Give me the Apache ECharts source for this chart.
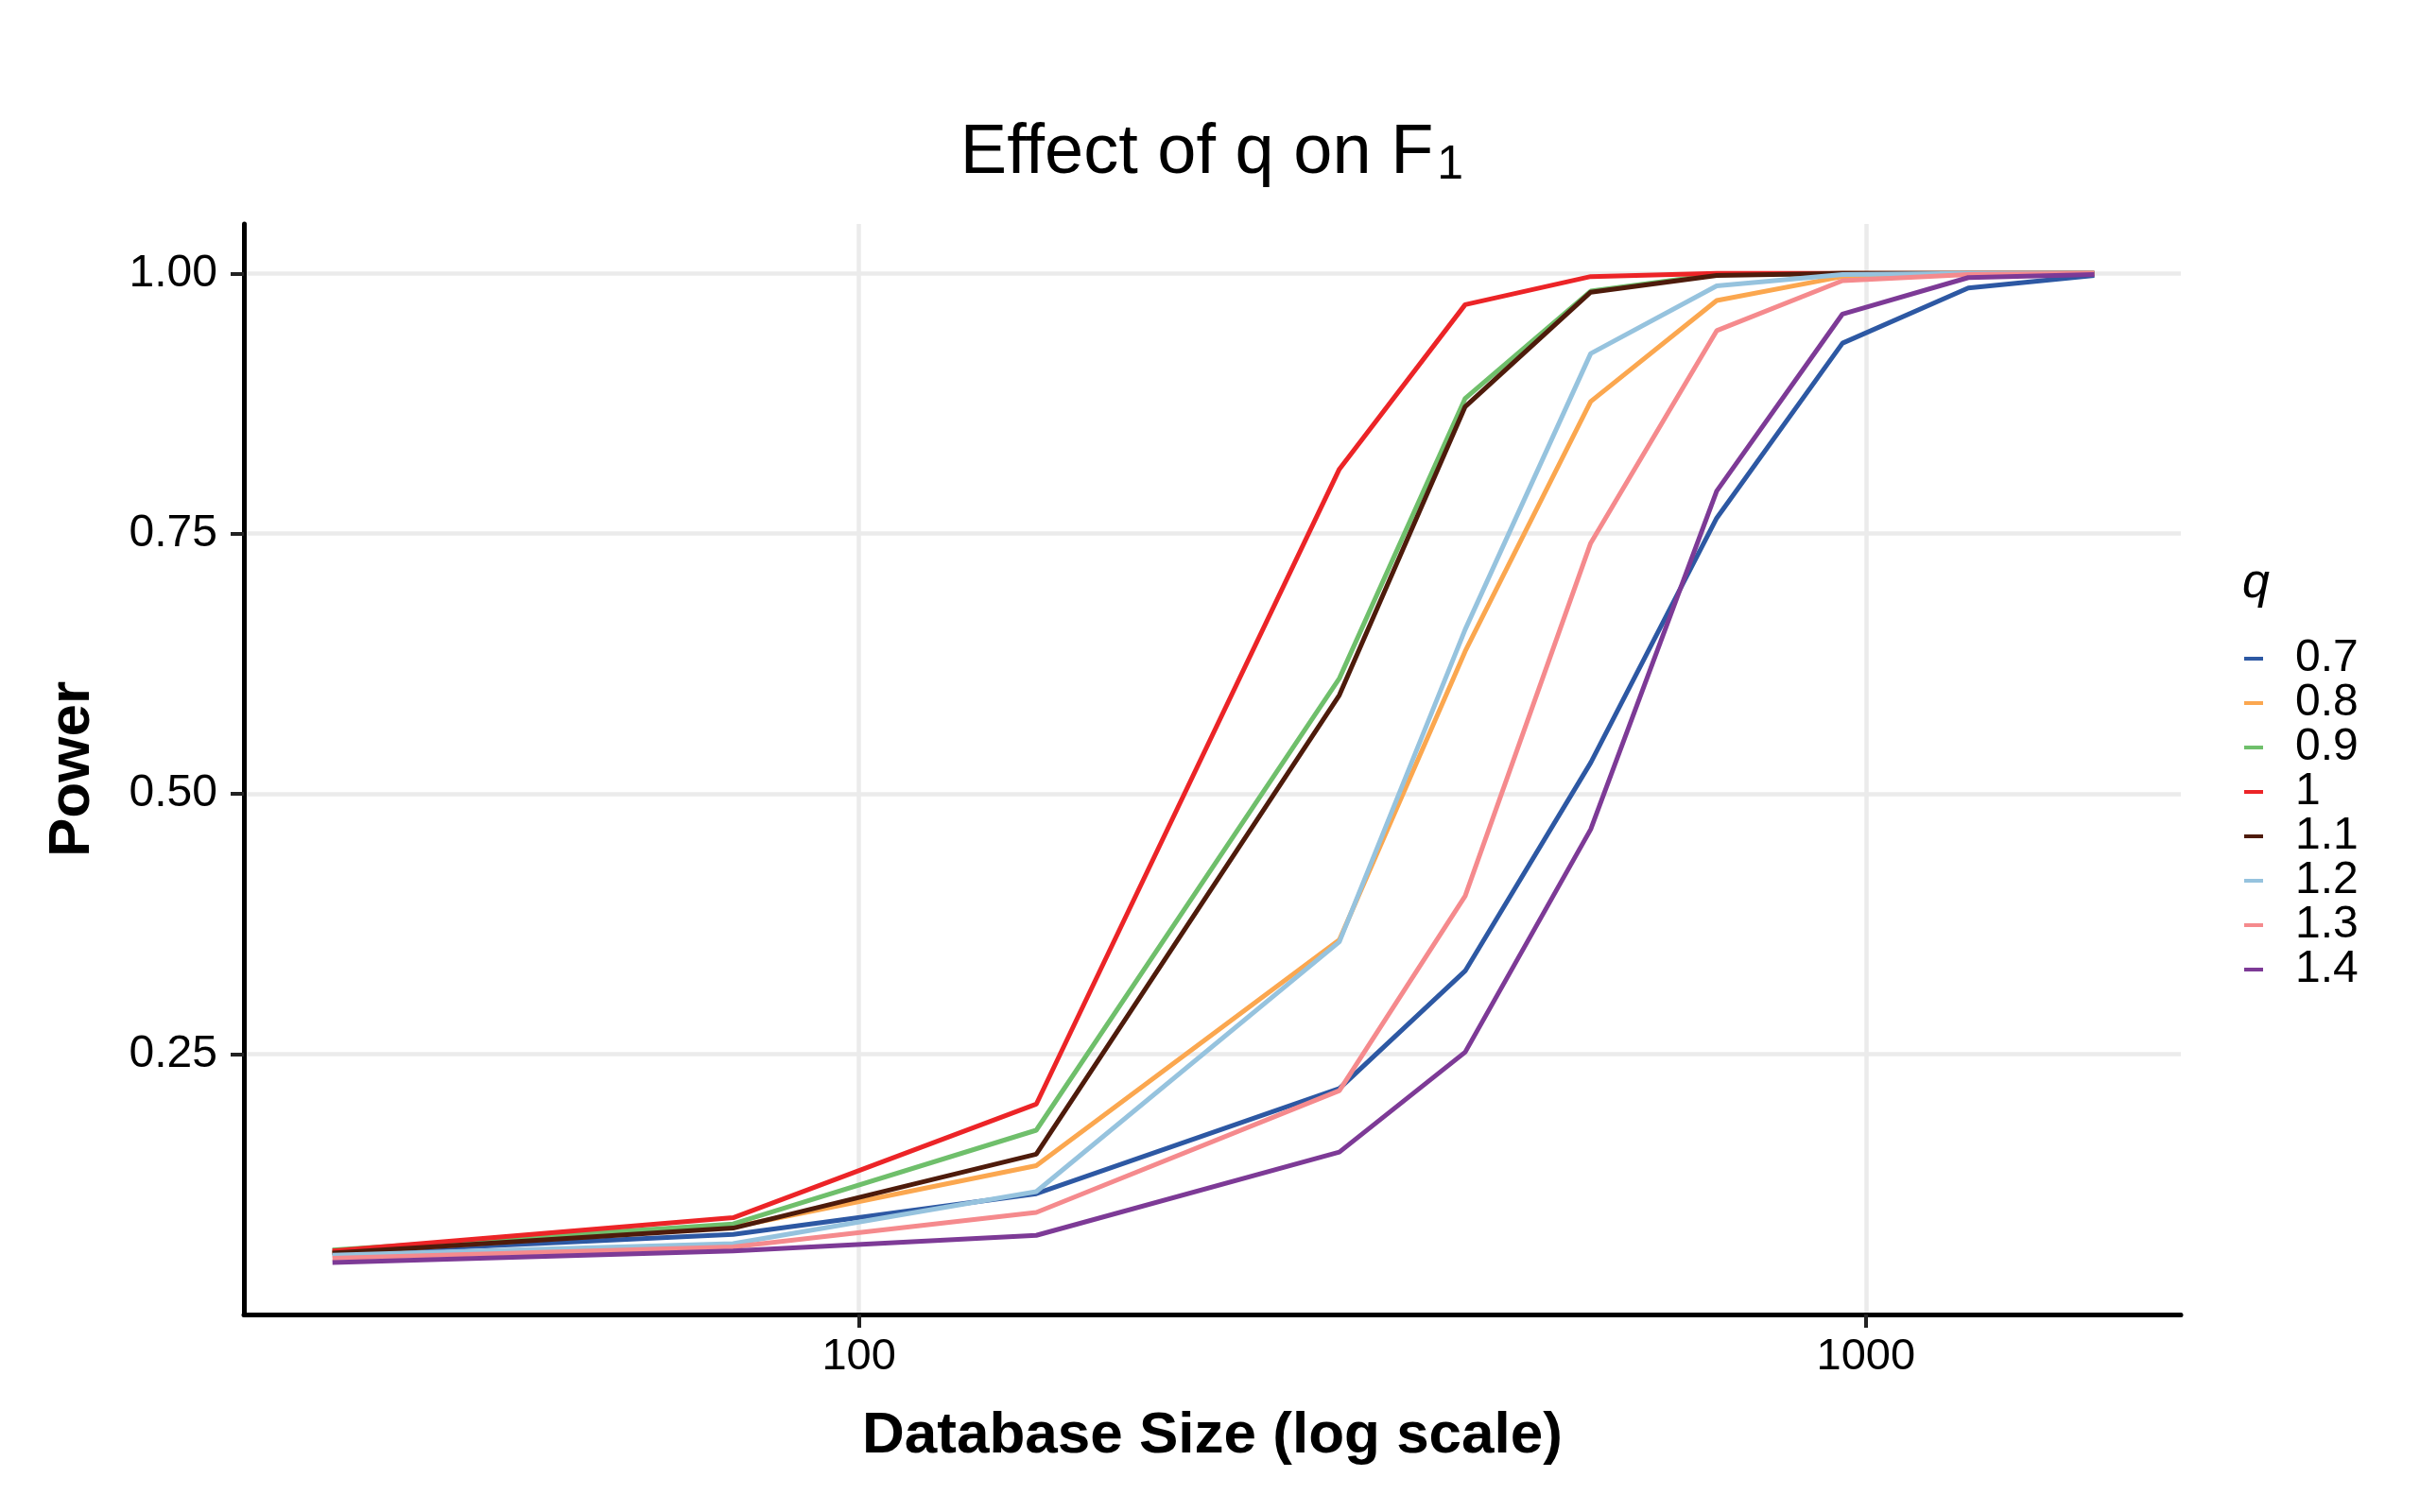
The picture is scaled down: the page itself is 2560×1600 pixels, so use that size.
<!DOCTYPE html>
<html>
<head>
<meta charset="utf-8">
<title>Effect of q on F1</title>
<script src="https://cdn.jsdelivr.net/npm/echarts@6/dist/echarts.min.js"></script>
<style>
  html, body { margin: 0; padding: 0; background: #fff; }
  #chart { width: 2560px; height: 1600px; }
</style>
</head>
<body>
<div id="chart"></div>
<script>
// database sizes (x, log scale)
var sizes = [30, 75, 150, 300, 400, 533, 711, 948, 1264, 1686];

// q levels and their colours
var qLevels = ['0.7', '0.8', '0.9', '1', '1.1', '1.2', '1.3', '1.4'];
var qColors = ['#2D58A3', '#FBA74F', '#6FBF6B', '#EC2427', '#4E1B0B', '#96C3DE', '#F58A8D', '#7D3A96'];

// power per q, one value per database size
var power07 = [0.059, 0.077, 0.116, 0.217, 0.330, 0.530, 0.765, 0.933, 0.986, 0.998];
var power08 = [0.059, 0.084, 0.143, 0.360, 0.637, 0.877, 0.974, 0.997, 1.000, 1.000];
var power09 = [0.062, 0.087, 0.177, 0.611, 0.880, 0.983, 0.999, 1.000, 1.000, 1.000];
var power10 = [0.061, 0.093, 0.202, 0.812, 0.970, 0.997, 1.000, 1.000, 1.000, 1.000];
var power11 = [0.059, 0.083, 0.154, 0.595, 0.872, 0.982, 0.998, 1.000, 1.000, 1.000];
var power12 = [0.057, 0.068, 0.118, 0.358, 0.658, 0.923, 0.988, 0.999, 1.000, 1.000];
var power13 = [0.054, 0.065, 0.098, 0.215, 0.402, 0.741, 0.945, 0.993, 0.999, 1.000];
var power14 = [0.050, 0.061, 0.076, 0.156, 0.252, 0.466, 0.791, 0.961, 0.996, 0.999];

var yTicks = [0.25, 0.5, 0.75, 1];
var xTicks = [100, 1000];

var powerByQ = [power07, power08, power09, power10, power11, power12, power13, power14];

var FONT = 'Liberation Sans, Arial, Helvetica, sans-serif';

var series = qLevels.map(function (q, i) {
  return {
    name: q,
    type: 'line',
    data: sizes.map(function (s, j) { return [s, powerByQ[i][j]]; }),
    symbol: 'none',
    color: qColors[i],
    lineStyle: { width: 5, color: qColors[i] },
    emphasis: { disabled: true }
  };
});

var chart = echarts.init(document.getElementById('chart'));

chart.setOption({
  animation: false,
  backgroundColor: '#ffffff',
  title: [{
    text: 'Effect of q on F{sub|1}',
    left: 1282,
    textAlign: 'center',
    top: 126,
    padding: 0,
    textStyle: {
      fontFamily: FONT,
      fontSize: 74,
      fontWeight: 'normal',
      color: '#000',
      lineHeight: 74,
      rich: {
        sub: { fontFamily: FONT, fontSize: 50, lineHeight: 26, verticalAlign: 'bottom', color: '#000', padding: [0, 0, 0, 4] }
      }
    }
  }, {
    text: 'q',
    left: 2372,
    top: 592,
    padding: 0,
    textStyle: {
      fontFamily: FONT,
      fontSize: 52,
      fontStyle: 'italic',
      fontWeight: 'normal',
      color: '#000'
    }
  }],
  legend: {
    orient: 'vertical',
    left: 2374,
    top: 673,
    padding: 0,
    itemGap: -1,
    itemWidth: 20,
    itemHeight: 4,
    icon: 'rect',
    selectedMode: false,
    data: qLevels,
    textStyle: {
      fontFamily: FONT,
      fontSize: 48,
      lineHeight: 48,
      color: '#000',
      padding: [0, 0, 0, 29]
    }
  },
  grid: {
    left: 258,
    right: 253,
    top: 237,
    bottom: 209,
    containLabel: false
  },
  xAxis: {
    type: 'log',
    logBase: 10,
    min: 24.5,
    max: 2055,
    name: 'Database Size (log scale)',
    nameLocation: 'middle',
    nameGap: 98,
    nameTextStyle: { fontFamily: FONT, fontSize: 62, fontWeight: 'bold', color: '#000' },
    axisLine: { show: true, onZero: false, lineStyle: { color: '#000', width: 5 } },
    axisTick: { show: true, customValues: xTicks, length: 14, lineStyle: { color: '#222', width: 4 } },
    axisLabel: {
      customValues: xTicks,
      margin: 22,
      fontFamily: FONT,
      fontSize: 47,
      color: '#000',
      formatter: function (v) { return String(Math.round(v)); }
    },
    splitLine: { show: true, lineStyle: { color: '#EBEBEB', width: 4.5 } },
    minorTick: { show: false },
    minorSplitLine: { show: false }
  },
  yAxis: {
    type: 'value',
    min: 0,
    max: 1.0475,
    interval: 0.25,
    name: 'Power',
    nameLocation: 'middle',
    nameGap: 150,
    nameTextStyle: { fontFamily: FONT, fontSize: 62, fontWeight: 'bold', color: '#000' },
    axisLine: { show: true, onZero: false, lineStyle: { color: '#000', width: 5 } },
    axisTick: { show: true, customValues: yTicks, length: 14, lineStyle: { color: '#222', width: 4 } },
    axisLabel: {
      customValues: yTicks,
      margin: 28,
      fontFamily: FONT,
      fontSize: 48,
      color: '#000',
      formatter: function (v) { return v.toFixed(2); }
    },
    splitLine: { show: true, lineStyle: { color: '#EBEBEB', width: 4.5 } }
  },
  series: series
});
</script>
</body>
</html>
